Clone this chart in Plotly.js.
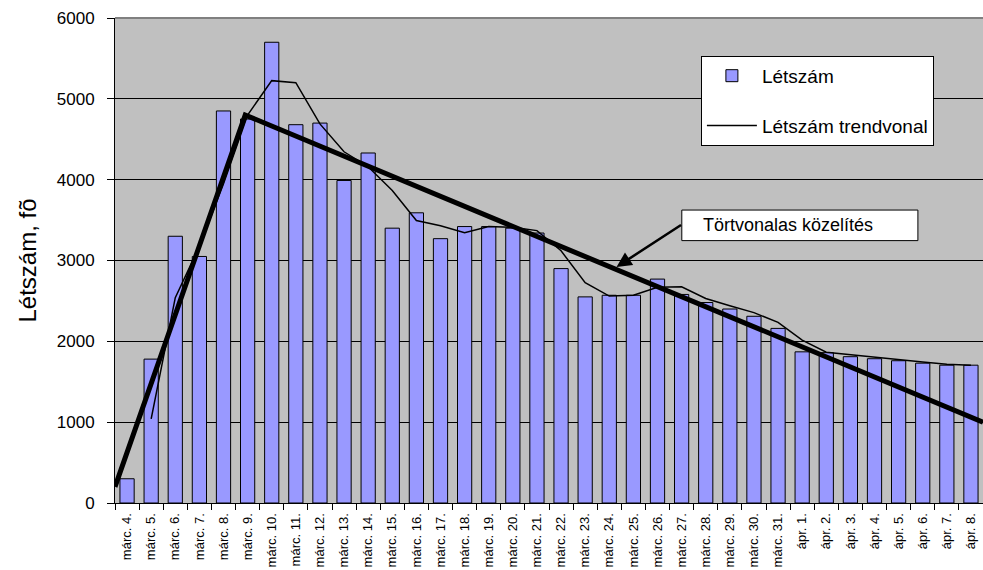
<!DOCTYPE html>
<html>
<head>
<meta charset="utf-8">
<script src="https://cdn.plot.ly/plotly-3.0.1.min.js"></script>
<style>html,body{margin:0;padding:0;background:#fff;}#chart{width:983px;height:570px;}</style>
</head>
<body>
<div id="chart"></div>
<script>
const categories = ["márc. 4.","márc. 5.","márc. 6.","márc. 7.","márc. 8.","márc. 9.","márc. 10.","márc. 11.","márc. 12.","márc. 13.","márc. 14.","márc. 15.","márc. 16.","márc. 17.","márc. 18.","márc. 19.","márc. 20.","márc. 21.","márc. 22.","márc. 23.","márc. 24.","márc. 25.","márc. 26.","márc. 27.","márc. 28.","márc. 29.","márc. 30.","márc. 31.","ápr. 1.","ápr. 2.","ápr. 3.","ápr. 4.","ápr. 5.","ápr. 6.","ápr. 7.","ápr. 8."];
const letszam = [300,1780,3300,3050,4850,4750,5700,4680,4700,3990,4330,3400,3590,3270,3420,3420,3400,3340,2900,2550,2570,2570,2770,2580,2480,2400,2310,2160,1870,1860,1810,1785,1760,1730,1705,1705];
const trendvonal = [null,1040,2540,3175,3950,4800,5225,5200,4690,4345,4160,3865,3495,3430,3345,3420,3410,3370,3120,2725,2560,2570,2670,2675,2530,2440,2355,2235,2015,1865,1835,1797,1772,1745,1718,1705];
const tortX = [-0.5, 4.9, 35.5];
const tortY = [200, 4800, 1000];
const yTicks = [0,1000,2000,3000,4000,5000,6000];

const idx = categories.map((c,i)=>i);
const font = "Arial, 'Liberation Sans', sans-serif";

const traces = [
  {type:'bar', x: idx, y: letszam, name:'Létszám', legendgroup:'a',
   marker:{color:'#9999ff', line:{color:'#000', width:1}}, hoverinfo:'y'},
  {type:'scatter', mode:'lines', x: idx, y: trendvonal, name:'Létszám trendvonal', legendgroup:'b',
   line:{color:'#000', width:1.5}, connectgaps:false},
  {type:'scatter', mode:'lines', x: tortX, y: tortY, name:'Törtvonalas közelítés', showlegend:false,
   line:{color:'#000', width:5}}
];

const layout = {
  width:983, height:570,
  margin:{l:115, r:0, t:18, b:67},
  paper_bgcolor:'#fff', plot_bgcolor:'#c0c0c0',
  font:{family:font, color:'#000'},
  bargap:0.41,
  showlegend:true,
  legend:{x:0.675, y:0.922, xanchor:'left', yanchor:'top', bgcolor:'#fff', bordercolor:'#000', borderwidth:1,
          font:{size:19, family:font}, traceorder:'grouped', tracegroupgap:22, itemwidth:50},
  xaxis:{type:'linear', range:[-0.5,35.5], tickmode:'array', tickvals: idx, ticktext: categories,
         tickangle:-90, tickfont:{size:13, family:font}, ticks:'', showgrid:false, zeroline:false,
         showline:true, linecolor:'#000', linewidth:1, ticklabelstandoff:4,
         minor:{tickmode:'linear', tick0:-0.5, dtick:1, ticks:'outside', ticklen:6, tickcolor:'#000', tickwidth:1, showgrid:false}},
  yaxis:{range:[0,6000], tickmode:'array', tickvals:yTicks, ticks:'outside', ticklen:7, tickcolor:'#000',
         tickfont:{size:17, family:font}, showgrid:true, gridcolor:'#000', gridwidth:1, zeroline:false,
         showline:true, linecolor:'#000', linewidth:1, ticklabelstandoff:9,
         title:{text:'Létszám, fõ', font:{size:24, family:font}, standoff:13}},
  shapes:[
    {type:'line', xref:'paper', yref:'paper', x0:0, x1:1, y0:1, y1:1, line:{color:'#808080', width:2}},
    {type:'rect', xref:'paper', yref:'paper', x0:0.653, x1:0.925, y0:0.541, y1:0.604,
     fillcolor:'#fff', line:{color:'#000', width:1}, layer:'above'}
  ],
  annotations:[
    {xref:'paper', yref:'paper', x:0.675, y:0.5725, xanchor:'left', yanchor:'middle', showarrow:false,
     text:'Törtvonalas közelítés', font:{size:18, family:font, color:'#000'}},
    {x:20.3, y:2920, xref:'x', yref:'y', text:'', showarrow:true, ax:66, ay:-43,
     arrowhead:2, arrowsize:1.2, arrowwidth:2.5, arrowcolor:'#000'}
  ]
};

Plotly.newPlot('chart', traces, layout, {displayModeBar:false, staticPlot:true});
</script>
</body>
</html>
